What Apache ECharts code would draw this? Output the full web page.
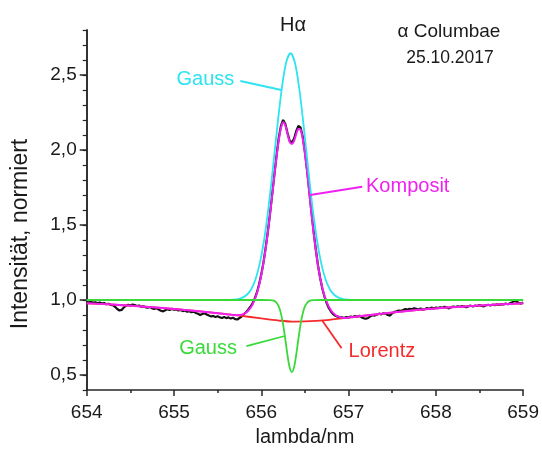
<!DOCTYPE html>
<html>
<head>
<meta charset="utf-8">
<script src="https://cdn.jsdelivr.net/npm/echarts@6/dist/echarts.min.js"></script>
<style>
  html, body { margin: 0; padding: 0; background: #fff; }
  #chart { width: 542px; height: 455px; }
</style>
</head>
<body>
<div id="chart"></div>
<script>
// H-alpha profile of alpha Columbae (25.10.2017), observed spectrum and fit components

// Observed spectrum: sampled every 0.025 nm from 654 nm
const spectrumStart = 654;
const spectrumStep = 0.025;
const spectrumIntensity = [
  // 654.000 - 655.000
  0.986, 0.984, 0.988, 0.982, 0.985, 0.979, 0.983, 0.976, 0.980, 0.972,
  0.975, 0.968, 0.966, 0.955, 0.940, 0.930, 0.934, 0.950, 0.962, 0.968,
  0.964, 0.970, 0.966, 0.960, 0.963, 0.955, 0.958, 0.951, 0.949, 0.953,
  0.944, 0.940, 0.946, 0.936, 0.928, 0.924, 0.932, 0.938, 0.933, 0.941,
  0.936,
  // 655.025 - 656.000
  0.938, 0.930, 0.934, 0.926, 0.930, 0.922, 0.925, 0.918, 0.922, 0.914,
  0.908, 0.900, 0.906, 0.912, 0.903, 0.896, 0.890, 0.894, 0.886, 0.892,
  0.884, 0.880, 0.887, 0.879, 0.884, 0.876, 0.882, 0.872, 0.870, 0.880,
  0.890, 0.905, 0.918, 0.935, 0.955, 0.978, 1.010, 1.050, 1.105, 1.172,
  // 656.025 - 657.000
  1.250, 1.348, 1.455, 1.575, 1.705, 1.838, 1.965, 2.080, 2.160, 2.200,
  2.175, 2.115, 2.062, 2.050, 2.075, 2.125, 2.160, 2.150, 2.090, 1.990,
  1.865, 1.725, 1.585, 1.455, 1.335, 1.230, 1.145, 1.075, 1.020, 0.978,
  0.945, 0.922, 0.905, 0.895, 0.889, 0.885, 0.884, 0.880, 0.887, 0.883,
  // 657.025 - 658.000
  0.890, 0.886, 0.893, 0.889, 0.895, 0.884, 0.878, 0.875, 0.880, 0.892,
  0.899, 0.896, 0.903, 0.909, 0.904, 0.912, 0.908, 0.900, 0.896, 0.912,
  0.921, 0.925, 0.930, 0.927, 0.934, 0.940, 0.936, 0.942, 0.938, 0.945,
  0.941, 0.937, 0.943, 0.935, 0.940, 0.946, 0.942, 0.949, 0.944, 0.950,
  // 658.025 - 659.000
  0.946, 0.952, 0.948, 0.955, 0.950, 0.944, 0.952, 0.957, 0.953, 0.958,
  0.955, 0.960, 0.956, 0.952, 0.959, 0.962, 0.957, 0.963, 0.960, 0.966,
  0.961, 0.958, 0.965, 0.968, 0.963, 0.969, 0.966, 0.971, 0.967, 0.973,
  0.970, 0.976, 0.972, 0.979, 0.985, 0.993, 0.988, 0.981, 0.976, 0.983
];

// Emission Gauss component
const gaussEmissionLambda = [654.0, 655.5, 655.635, 655.685, 655.735, 655.785, 655.835, 655.885,
  655.935, 655.985, 656.035, 656.085, 656.135, 656.185, 656.235, 656.285, 656.335, 656.385,
  656.435, 656.485, 656.535, 656.585, 656.635, 656.685, 656.735, 656.785, 656.835, 656.885,
  656.935, 656.985, 657.035, 657.2, 659.0];
const gaussEmissionValue = [1.0, 1.0, 1.001, 1.002, 1.006, 1.016, 1.035, 1.072,
  1.140, 1.249, 1.410, 1.627, 1.888, 2.163, 2.410, 2.583, 2.645, 2.583,
  2.410, 2.163, 1.888, 1.627, 1.410, 1.249, 1.140, 1.072, 1.035, 1.016,
  1.006, 1.002, 1.001, 1.0, 1.0];

// Absorption Gauss component
const gaussAbsorptionLambda = [654.0, 656.0, 656.1, 656.125, 656.15, 656.175, 656.2, 656.225,
  656.25, 656.275, 656.3, 656.325, 656.35, 656.375, 656.4, 656.425, 656.45, 656.475, 656.5,
  656.525, 656.55, 656.575, 656.6, 656.7, 659.0];
const gaussAbsorptionValue = [1.0, 1.0, 0.9994, 0.998, 0.994, 0.982, 0.958, 0.911,
  0.837, 0.739, 0.634, 0.551, 0.520, 0.551, 0.634, 0.739, 0.837, 0.911, 0.958,
  0.982, 0.994, 0.998, 0.9994, 1.0, 1.0];

// Lorentz component
const lorentzLambda = [654.0, 654.25, 654.5, 654.75, 655.0, 655.25, 655.5, 655.75, 656.0, 656.2,
  656.35, 656.5, 656.75, 657.0, 657.25, 657.5, 657.75, 658.0, 658.25, 658.5, 658.75, 659.0];
const lorentzValue = [0.978, 0.971, 0.962, 0.952, 0.940, 0.927, 0.912, 0.896, 0.877, 0.863,
  0.856, 0.857, 0.866, 0.883, 0.900, 0.916, 0.931, 0.944, 0.954, 0.963, 0.971, 0.978];

// Composite fit
const compositeLambda = [654.0, 654.25, 654.5, 654.75, 655.0, 655.25, 655.5, 655.6, 655.65, 655.7,
  655.75, 655.8, 655.85, 655.9, 655.95, 656.0, 656.05, 656.1, 656.15, 656.175, 656.2, 656.225,
  656.25, 656.275, 656.3, 656.325, 656.35, 656.375, 656.4, 656.425, 656.45, 656.475, 656.5,
  656.525, 656.55, 656.575, 656.6, 656.65, 656.7, 656.75, 656.8, 656.85, 656.9, 656.95, 657.0,
  657.25, 657.5, 657.75, 658.0, 658.25, 658.5, 658.75, 659.0];
const compositeValue = [0.978, 0.971, 0.962, 0.952, 0.940, 0.927, 0.912, 0.905, 0.902, 0.899,
  0.900, 0.908, 0.928, 0.970, 1.045, 1.165, 1.342, 1.570, 1.830, 1.955, 2.065, 2.145,
  2.185, 2.165, 2.108, 2.055, 2.040, 2.060, 2.105, 2.140, 2.135, 2.075, 1.975,
  1.855, 1.715, 1.578, 1.448, 1.228, 1.078, 0.985, 0.930, 0.900, 0.886, 0.880, 0.883,
  0.900, 0.916, 0.931, 0.944, 0.954, 0.963, 0.971, 0.978];

// Axis ticks
const xTicks = [654, 655, 656, 657, 658, 659];
const yMajorTicks = [0.5, 1.0, 1.5, 2.0, 2.5];
const yMinorTicks = [0.4, 0.5, 0.6, 0.7, 0.8, 0.9, 1.0, 1.1, 1.2, 1.3, 1.4, 1.5, 1.6, 1.7, 1.8,
  1.9, 2.0, 2.1, 2.2, 2.3, 2.4, 2.5, 2.6, 2.7, 2.8];

const FONT = '"Liberation Sans", Arial, sans-serif';
const TEXT = '#1a1a1a';
const AXIS = '#262626';
const COLORS = {
  spectrum: '#131313',
  emission: '#2fe3f0',
  absorption: '#3ad93a',
  lorentz: '#f52a2a',
  composite: '#f020f0'
};

const pairs = (xs, ys) => xs.map((x, i) => [x, ys[i]]);
const spectrumData = spectrumIntensity.map((v, i) => [spectrumStart + i * spectrumStep, v]);

const chart = echarts.init(document.getElementById('chart'), null, { renderer: 'canvas' });

const yBase = {
  type: 'value',
  min: 0.4,
  max: 2.8,
  position: 'left',
  splitLine: { show: false },
  axisLine: { show: true, lineStyle: { color: AXIS, width: 1.5 } }
};

chart.setOption({
  animation: false,
  grid: { left: 86.7, right: 15.3, top: 30, bottom: 65 },
  xAxis: {
    type: 'value',
    min: 654,
    max: 659,
    interval: 1,
    name: 'lambda/nm',
    nameLocation: 'middle',
    nameGap: 37,
    nameTextStyle: { fontFamily: FONT, fontSize: 20, color: TEXT },
    axisLine: { lineStyle: { color: AXIS, width: 1.5 } },
    axisTick: { show: true, length: 6, lineStyle: { color: AXIS, width: 1.5 } },
    minorTick: { show: true, splitNumber: 2, length: 3, lineStyle: { color: AXIS, width: 1.5 } },
    axisLabel: {
      fontFamily: FONT, fontSize: 19, color: TEXT, margin: 13,
      customValues: xTicks,
      formatter: v => String(v)
    },
    splitLine: { show: false }
  },
  yAxis: [
    Object.assign({}, yBase, {
      axisTick: { show: true, length: 7, customValues: yMajorTicks, lineStyle: { color: AXIS, width: 1.5 } },
      axisLabel: {
        fontFamily: FONT, fontSize: 19, color: TEXT, margin: 10,
        customValues: yMajorTicks,
        formatter: v => v.toFixed(1).replace('.', ',')
      }
    }),
    Object.assign({}, yBase, {
      axisTick: { show: true, length: 4, customValues: yMinorTicks, lineStyle: { color: AXIS, width: 1.2 } },
      axisLabel: { show: false }
    })
  ],
  series: [
    {
      name: 'Spektrum', type: 'line', data: spectrumData, showSymbol: false,
      lineStyle: { color: COLORS.spectrum, width: 2.2 }, z: 2
    },
    {
      name: 'Lorentz', type: 'line', data: pairs(lorentzLambda, lorentzValue), showSymbol: false,
      smooth: 0.3, lineStyle: { color: COLORS.lorentz, width: 1.8 }, z: 3
    },
    {
      name: 'Komposit', type: 'line', data: pairs(compositeLambda, compositeValue), showSymbol: false,
      smooth: 0.3, lineStyle: { color: COLORS.composite, width: 2 }, z: 4
    },
    {
      name: 'Gauss Emission', type: 'line', data: pairs(gaussEmissionLambda, gaussEmissionValue), showSymbol: false,
      smooth: 0.3, lineStyle: { color: COLORS.emission, width: 1.8 }, z: 5
    },
    {
      name: 'Gauss Absorption', type: 'line', data: pairs(gaussAbsorptionLambda, gaussAbsorptionValue), showSymbol: false,
      smooth: 0.3, lineStyle: { color: COLORS.absorption, width: 1.8 }, z: 6
    }
  ]
});

// Labels with leader lines, anchored in data coordinates
const annotations = [
  { text: 'Gauss', color: COLORS.emission, at: [655.36, 2.47], align: 'center', from: [655.76, 2.46], to: [656.23, 2.40] },
  { text: 'Komposit', color: COLORS.composite, at: [657.2, 1.755], align: 'left', from: [657.155, 1.755], to: [656.56, 1.70] },
  { text: 'Gauss', color: COLORS.absorption, at: [655.39, 0.68], align: 'center', from: [655.83, 0.693], to: [656.27, 0.76] },
  { text: 'Lorentz', color: COLORS.lorentz, at: [657.0, 0.655], align: 'left', from: [656.92, 0.678], to: [656.70, 0.862] }
];

const px = p => chart.convertToPixel({ gridIndex: 0 }, p);
const graphics = [];
annotations.forEach(a => {
  const t = px(a.at), f = px(a.from), e = px(a.to);
  graphics.push({
    type: 'text', z: 10,
    style: { text: a.text, x: t[0], y: t[1], fill: a.color, fontSize: 20, fontFamily: FONT, align: a.align, verticalAlign: 'middle' }
  });
  graphics.push({
    type: 'line', z: 10,
    shape: { x1: f[0], y1: f[1], x2: e[0], y2: e[1] },
    style: { stroke: a.color, lineWidth: 1.8 }
  });
});

// Y axis title, set lower than the plot middle
graphics.push({
  type: 'text', z: 10,
  x: 21, y: 234, rotation: Math.PI / 2,
  style: { text: 'Intensität, normiert', x: 0, y: 0, fill: TEXT, fontSize: 23, fontFamily: FONT, align: 'center', verticalAlign: 'middle' }
});

// Line name and star / date
graphics.push({
  type: 'text', z: 10,
  style: { text: 'Hα', x: 293, y: 25, fill: TEXT, fontSize: 20, fontFamily: FONT, align: 'center', verticalAlign: 'middle' }
});
graphics.push({
  type: 'text', z: 10,
  style: { text: 'α Columbae', x: 449, y: 32, fill: TEXT, fontSize: 19, fontFamily: FONT, align: 'center', verticalAlign: 'middle' }
});
graphics.push({
  type: 'text', z: 10,
  style: { text: '25.10.2017', x: 450, y: 58.5, fill: TEXT, fontSize: 17.5, fontFamily: FONT, align: 'center', verticalAlign: 'middle' }
});

chart.setOption({ graphic: graphics });
</script>
</body>
</html>
